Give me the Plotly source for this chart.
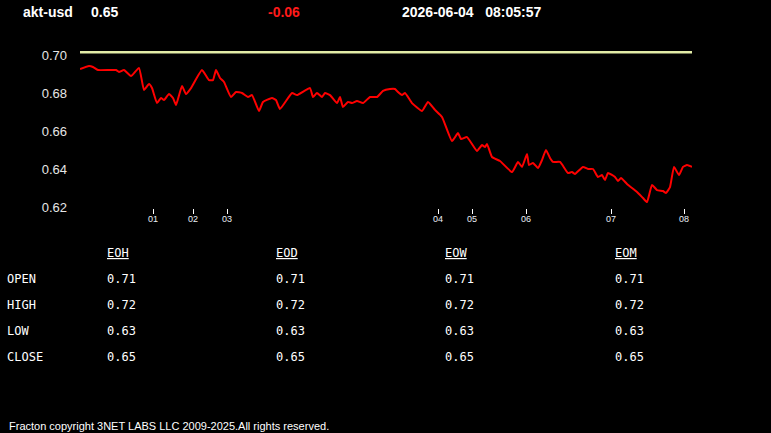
import plotly.graph_objects as go

# ---------------- data ----------------
symbol = "akt-usd"
last_price = "0.65"
change = "-0.06"
timestamp = "2026-06-04   08:05:57"

t_idx = [0, 9, 13, 18, 36, 39, 44, 51, 59, 64, 69, 72, 77, 81, 84, 89, 93, 96, 102, 106,
         111, 122, 129, 133, 136, 140, 144, 151, 156, 162, 168, 172, 179, 183, 192, 196, 200,
         212, 217, 230, 233, 237, 242, 245, 250, 257, 260, 263, 268, 272, 277, 283, 290, 297,
         303, 310, 315, 318, 322, 325, 332, 342, 348, 355, 362, 372, 378, 381, 387, 397, 402,
         405, 407, 412, 420, 432, 438, 442, 447, 449, 453, 458, 462, 466, 470, 473, 480, 488,
         492, 495, 503, 508, 513, 518, 522, 525, 528, 535, 538, 541, 547, 557, 563, 567, 572,
         577, 583, 586, 590, 594, 599, 603, 607, 612]
price = [0.6926, 0.6942, 0.6937, 0.6921, 0.6921, 0.6911, 0.6921, 0.6889, 0.6932, 0.6816,
         0.6847, 0.6826, 0.6747, 0.6774, 0.6763, 0.6795, 0.6774, 0.6737, 0.6837, 0.6795,
         0.6826, 0.6921, 0.6868, 0.6868, 0.6921, 0.6879, 0.6858, 0.6779, 0.6805, 0.6800,
         0.6779, 0.6789, 0.6705, 0.6753, 0.6774, 0.6763, 0.6716, 0.6800, 0.6789, 0.6826,
         0.6779, 0.6800, 0.6779, 0.6800, 0.6789, 0.6747, 0.6779, 0.6726, 0.6753, 0.6747,
         0.6758, 0.6747, 0.6779, 0.6779, 0.6811, 0.6821, 0.6821, 0.6805, 0.6789, 0.6800,
         0.6747, 0.6705, 0.6753, 0.6711, 0.6674, 0.6547, 0.6589, 0.6558, 0.6568, 0.6495,
         0.6526, 0.6516, 0.6532, 0.6463, 0.6442, 0.6384, 0.6437, 0.6411, 0.6479, 0.6421,
         0.6432, 0.6405, 0.6447, 0.6500, 0.6458, 0.6437, 0.6437, 0.6379, 0.6384, 0.6374,
         0.6411, 0.6400, 0.6400, 0.6358, 0.6368, 0.6342, 0.6379, 0.6358, 0.6337, 0.6353,
         0.6321, 0.6279, 0.6247, 0.6226, 0.6316, 0.6289, 0.6284, 0.6274, 0.6305, 0.6411,
         0.6368, 0.6411, 0.6421, 0.6411]
ref_level = [0.7015]

x_tick_pos = [73, 113, 147, 358, 392, 446, 531, 604]
x_tick_text = ["01", "02", "03", "04", "05", "06", "07", "08"]
y_tick_vals = [0.62, 0.64, 0.66, 0.68, 0.70]

table_cols = ["EOH", "EOD", "EOW", "EOM"]
table_rows = ["OPEN", "HIGH", "LOW", "CLOSE"]
table_vals = [["0.71", "0.71", "0.71", "0.71"],
              ["0.72", "0.72", "0.72", "0.72"],
              ["0.63", "0.63", "0.63", "0.63"],
              ["0.65", "0.65", "0.65", "0.65"]]
footer = "Fracton copyright 3NET LABS LLC 2009-2025.All rights reserved."

# ---------------- layout geometry ----------------
W, H = 771, 433
ML, MR, MT, MB = 80, 79, 40, 225
PW, PH = W - ML - MR, H - MT - MB


def px2x(px):
    return (px - ML) / PW


def px2y(py):
    return (H - MB - py) / PH


fig = go.Figure()
fig.add_trace(go.Scatter(x=[min(t_idx), max(t_idx)], y=ref_level * 2, mode="lines",
                         line=dict(color="#e2eba6", width=2.5), hoverinfo="skip",
                         showlegend=False))
fig.add_trace(go.Scatter(x=t_idx, y=price, mode="lines",
                         line=dict(color="#ff0000", width=2, shape="spline", smoothing=0.4),
                         showlegend=False))

ann = []
hdr_font = dict(family="Liberation Sans, Arial", size=14, color="white")
ann.append(dict(text="<b>" + symbol + "</b>", x=px2x(22), y=px2y(12), font=hdr_font))
ann.append(dict(text="<b>" + last_price + "</b>", x=px2x(90), y=px2y(12), font=hdr_font))
ann.append(dict(text="<b>" + change + "</b>", x=px2x(267), y=px2y(12),
                font=dict(family="Liberation Sans, Arial", size=14, color="#ff1a1a")))
ann.append(dict(text="<b>" + timestamp.replace(" ", "&nbsp;") + "</b>", x=px2x(401), y=px2y(12),
                font=hdr_font))

mono = dict(family="DejaVu Sans Mono, monospace", size=12, color="white")
col_x = [106, 275, 444, 614]
row_y = [279, 305, 331, 357]
for cx, name in zip(col_x, table_cols):
    ann.append(dict(text="<u>" + name + "</u>", x=px2x(cx), y=px2y(253), font=mono))
for ry, rname, vals in zip(row_y, table_rows, table_vals):
    ann.append(dict(text=rname, x=px2x(6), y=px2y(ry), font=mono))
    for cx, v in zip(col_x, vals):
        ann.append(dict(text=v, x=px2x(cx), y=px2y(ry), font=mono))

ann.append(dict(text=footer, x=px2x(8), y=px2y(426),
                font=dict(family="Liberation Sans, Arial", size=11, color="white")))

for a in ann:
    a.update(xref="paper", yref="paper", xanchor="left", yanchor="middle",
             showarrow=False, borderpad=0)

fig.update_layout(
    width=W, height=H,
    margin=dict(l=ML, r=MR, t=MT, b=MB, pad=0),
    paper_bgcolor="black", plot_bgcolor="black",
    annotations=ann,
    xaxis=dict(range=[min(t_idx), max(t_idx)], tickvals=x_tick_pos, ticktext=x_tick_text,
               showgrid=False, zeroline=False, showline=False,
               ticks="outside", ticklen=5, tickwidth=1, tickcolor="white",
               ticklabelstandoff=-3,
               tickfont=dict(family="Liberation Sans, Arial", size=9, color="#e8eef5")),
    yaxis=dict(range=[0.62 - 1 / 1900, 0.70 + 15 / 1900], tickvals=y_tick_vals,
               tickformat=".2f", showgrid=False, zeroline=False, showline=False,
               ticks="", ticklabelstandoff=12,
               tickfont=dict(family="Liberation Sans, Arial", size=13, color="#e6e6e6")),
    hovermode=False,
)

fig.write_html("out.html", config={"displayModeBar": False})
